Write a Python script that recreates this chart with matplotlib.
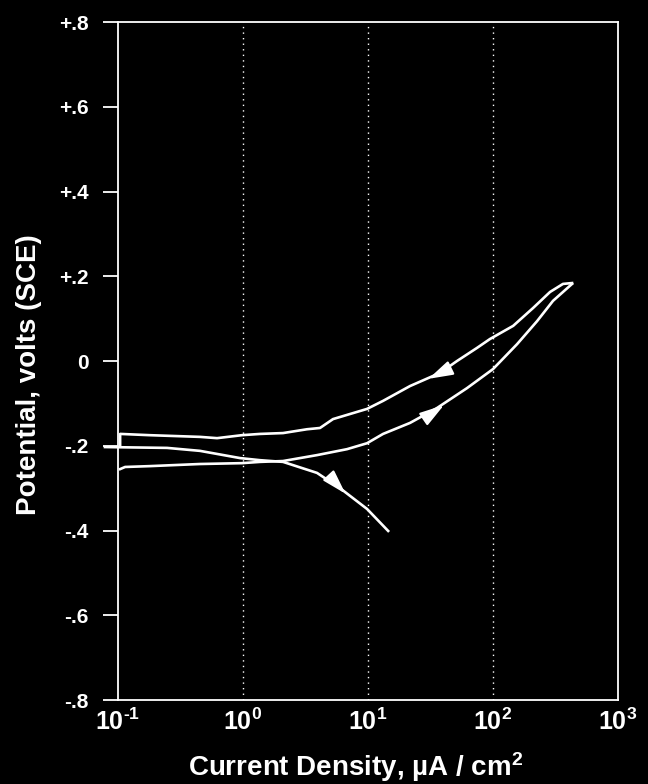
import matplotlib
matplotlib.use("Agg")
import matplotlib.pyplot as plt

plt.rcParams['font.family'] = ['Liberation Sans', 'DejaVu Sans']
plt.rcParams['font.weight'] = 'bold'
plt.rcParams['mathtext.fontset'] = 'custom'
plt.rcParams['mathtext.rm'] = 'Liberation Sans:bold'
plt.rcParams['mathtext.it'] = 'Liberation Sans:bold'
plt.rcParams['mathtext.bf'] = 'Liberation Sans:bold'
plt.rcParams['mathtext.default'] = 'rm'

# Forward (anodic) scan
fwd_i = [0.104, 0.114, 0.180, 0.453, 0.98, 1.37, 2.09, 3.91, 6.79, 9.82,
         13.2, 21.7, 35.6, 61.9, 100, 156, 225, 302, 429]
fwd_e = [-0.255, -0.250, -0.248, -0.243, -0.241, -0.238, -0.236, -0.222, -0.208, -0.194,
         -0.172, -0.146, -0.111, -0.064, -0.019, 0.040, 0.094, 0.142, 0.182]

# Reverse scan
rev_i = [429, 363, 286, 209, 145, 94.6, 74.5, 51.5, 37.7, 21.7, 13.2, 9.82,
         5.25, 4.13, 3.25, 2.09, 1.37, 0.98, 0.62, 0.453, 0.180, 0.104, 0.104]
rev_e = [0.184, 0.182, 0.163, 0.125, 0.083, 0.052, 0.031, 0.0, -0.028, -0.059, -0.094, -0.113,
         -0.137, -0.158, -0.161, -0.170, -0.172, -0.175, -0.182, -0.179, -0.175, -0.172, -0.201]

# Cathodic continuation
cat_i = [0.0787, 0.247, 0.453, 0.946, 1.37, 2.09, 3.91, 5.97, 9.82, 14.5]
cat_e = [-0.203, -0.205, -0.212, -0.229, -0.234, -0.238, -0.264, -0.300, -0.349, -0.401]

# Arrow (tail, head) pairs
arrows = [((31.5, -0.126), (40.5, -0.104)),
          ((42.0, -0.022), (30.5, -0.042)),
          ((5.2, -0.280), (6.6, -0.313))]

yticks = [0.8, 0.6, 0.4, 0.2, 0.0, -0.2, -0.4, -0.6, -0.8]
ytick_labels = ['+.8', '+.6', '+.4', '+.2', '0', '-.2', '-.4', '-.6', '-.8']
xticks = [0.1, 1, 10, 100, 1000]
xtick_labels = [r'$10^{\text{-1}}$', r'$10^{0}$', r'$10^{1}$', r'$10^{2}$', r'$10^{3}$']

fig = plt.figure(figsize=(6.48, 7.84), dpi=100, facecolor='black')
ax = fig.add_axes([0.1821, 0.1071, 0.7716, 0.8648], facecolor='black')

ax.set_xscale('log')
ax.set_xlim(0.1, 1000)
ax.set_ylim(-0.8, 0.8)

for g in [1, 10, 100]:
    ax.axvline(g, color='white', lw=1.0, linestyle=(0, (1, 3)), zorder=1)

lw = 1.9
ax.plot(fwd_i, fwd_e, color='white', lw=lw, zorder=3, solid_joinstyle='round')
ax.plot(rev_i, rev_e, color='white', lw=lw, zorder=3, solid_joinstyle='round')
ax.plot(cat_i, cat_e, color='white', lw=lw, zorder=3, clip_on=False, solid_joinstyle='round')

for tail, head in arrows:
    ax.annotate('', xy=head, xytext=tail,
                arrowprops=dict(arrowstyle='-|>,head_length=1.0,head_width=0.3',
                                color='white', lw=1.5, shrinkA=0, shrinkB=0,
                                mutation_scale=15), zorder=4)

for s in ax.spines.values():
    s.set_color('white')
    s.set_linewidth(1.3)

ax.set_yticks(yticks)
ax.set_yticklabels(ytick_labels, fontsize=15, fontweight='bold', color='white')
ax.set_xticks(xticks)
ax.set_xticklabels(xtick_labels, fontsize=18, color='white')
ax.xaxis.set_minor_locator(matplotlib.ticker.NullLocator())
ax.tick_params(axis='y', direction='out', length=11, width=1.3, color='white', pad=10)
ax.tick_params(axis='x', length=0, pad=6)

ax.set_xlabel('Current Density, \u00b5A / cm$^{2}$', fontsize=20, fontweight='bold',
              color='white')
ax.xaxis.set_label_coords(0.476, -0.0745)
ax.set_ylabel('Potential, volts (SCE)', fontsize=20, fontweight='bold', color='white')
ax.yaxis.set_label_coords(-0.152, 0.48)

fig.savefig('out.png', dpi=100, facecolor='black')
